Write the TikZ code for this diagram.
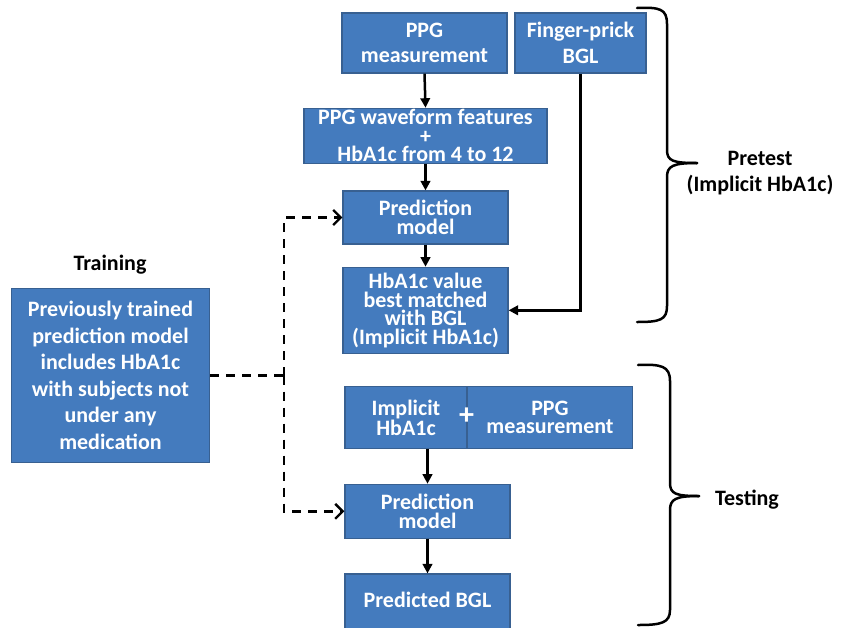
\documentclass[tikz,border=0pt]{standalone}
\usepackage{fontspec}
\setmainfont{Carlito}
\usetikzlibrary{arrows.meta}
\definecolor{boxfill}{RGB}{68,123,190}
\definecolor{boxedge}{RGB}{56,96,145}
\begin{document}
\begin{tikzpicture}[x=1pt,y=-1pt,
  box/.style={draw=boxedge,line width=1.2pt,fill=boxfill,text=white,
    inner sep=0pt,align=center,font=\bfseries\fontsize{22}{25.5}\selectfont},
  tight/.style={font=\bfseries\fontsize{22}{18.5}\selectfont},
  lbl/.style={inner sep=0pt,align=center,text=black,
    font=\bfseries\fontsize{22}{26.5}\selectfont},
  arr/.style={line width=2.5pt,-{Triangle[length=9.5pt,width=9.5pt]}},
  dasharr/.style={line width=2.4pt,dash pattern=on 9pt off 7pt,
    -{Straight Barb[length=7.5pt,width=15pt,line width=2.4pt]}},
  dashline/.style={line width=2.4pt,dash pattern=on 9pt off 7pt},
  brace/.style={line width=2.5pt,line cap=round}]
\useasboundingbox (0,0) rectangle (845,627);
\clip (0,0) rectangle (845,627);

% pretest column
\node[box,minimum width=165pt,minimum height=60pt] (ppg) at (424.5,43) {PPG\\measurement};
\node[box,minimum width=131pt,minimum height=60pt] (finger) at (580.5,43) {Finger-prick\\BGL};
\node[box,tight,minimum width=243pt,minimum height=55pt] (feat) at (425.5,135.8) {PPG waveform features\\+\\HbA1c from 4 to 12};
\node[box,tight,minimum width=165pt,minimum height=53pt] (pred1) at (425.5,217.5) {Prediction\\model};
\node[box,tight,minimum width=165pt,minimum height=86pt] (hba) at (425.5,310.3) {HbA1c value\\best matched\\with BGL\\(Implicit HbA1c)};

% training model
\node[lbl] (trainlbl) at (110,265) {Training};
\node[box,font=\bfseries\fontsize{22}{26.5}\selectfont,minimum width=198pt,minimum height=174pt] (train) at (110.5,375.5)
  {Previously trained\\prediction model\\includes HbA1c\\with subjects not\\under any\\medication};

% testing column
\node[box,tight,minimum width=122pt,minimum height=62pt] (impl) at (406,417.5) {Implicit\\HbA1c};
\node[box,tight,minimum width=165pt,minimum height=62pt] (ppg2) at (550,417.5) {PPG\\measurement};
\node[text=white,inner sep=0pt,font=\bfseries\fontsize{30}{30}\selectfont] (plus) at (466.7,416) {+};
\node[box,tight,minimum width=165pt,minimum height=54pt] (pred2) at (427.5,511.3) {Prediction\\model};
\node[box,minimum width=165pt,minimum height=80pt] (out) at (427.5,614) {};
\node[text=white,inner sep=0pt,font=\bfseries\fontsize{22}{25}\selectfont] (outtxt) at (427.5,600) {Predicted BGL};

% solid connectors
\draw[arr] (ppg.south) -- (feat.north);
\draw[arr] (feat.south -| pred1.north) -- (pred1.north);
\draw[arr] (pred1.south) -- (hba.north);
\draw[arr] (finger.south) |- (hba.east);
\draw[arr] (impl.south -| pred2.north) -- (pred2.north);
\draw[arr] (pred2.south) -- (out.north);

% dashed links from the trained model
\coordinate (split) at (284,375.5);
\draw[dashline] (train.east) -- (split);
\draw[dasharr] (split) |- (pred1.west);
\draw[dasharr] (split) |- (pred2.west);

% braces and phase labels
\draw[brace] (637,8) .. controls (660,7) and (667,9) .. (667,24) -- (667,150)
  .. controls (667,161) and (673,163) .. (697,163);
\draw[brace] (697,163) .. controls (673,163) and (667,166) .. (667,177) -- (667,306)
  .. controls (667,320) and (660,322) .. (637,322);
\node[lbl] (pretestlbl) at (760,173) {Pretest\\(Implicit HbA1c)};

\draw[brace] (638,365) .. controls (661,364) and (670,366) .. (670,381) -- (670,483)
  .. controls (670,494) and (676,496) .. (699,496);
\draw[brace] (699,496) .. controls (676,496) and (670,499) .. (670,510) -- (670,610)
  .. controls (670,623) and (661,625) .. (638,625);
\node[lbl] (testlbl) at (747,500) {Testing};
\end{tikzpicture}
\end{document}
